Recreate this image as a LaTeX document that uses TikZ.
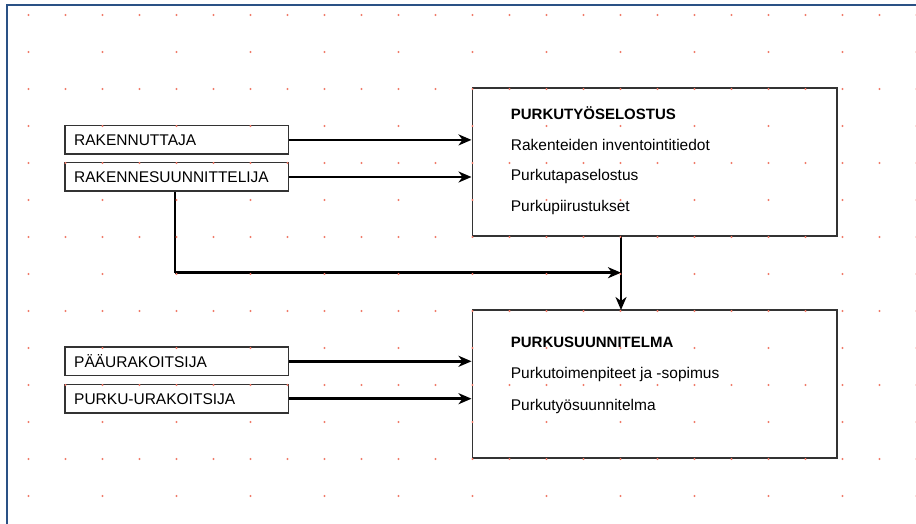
\documentclass[tikz,border=0pt]{standalone}
\usepackage{fontspec}
\setmainfont{Liberation Sans}
\usetikzlibrary{arrows.meta}
\definecolor{frameblue}{HTML}{2A5185}
\definecolor{dotred}{HTML}{F07A68}
\definecolor{boxgray}{HTML}{333333}
\tikzset{
  rolebox/.style={draw=boxgray, line width=1.6pt, minimum width=223.3pt, minimum height=28.6pt,
    inner sep=0pt, text width=205pt, align=left, font=\fontsize{15.5}{17}\selectfont},
  docbox/.style={draw=boxgray, line width=1.6pt, minimum width=364.4pt, minimum height=148pt, inner sep=0pt},
  doctitle/.style={anchor=west, inner sep=0pt, font=\fontsize{15}{17}\selectfont\bfseries},
  docline/.style={anchor=west, inner sep=0pt, font=\fontsize{15.5}{17}\selectfont},
  flow/.style={line width=2.6pt, -{Stealth[length=13pt,width=11pt,inset=4pt]}},
  plain/.style={line width=2.6pt}
}
\begin{document}
\begin{tikzpicture}[x=1pt,y=-1pt]
\useasboundingbox (0,0) rectangle (916,524);
\fill[white] (0,0) rectangle (916,524);
% frame
\draw[frameblue, line width=2.4pt] (7,524) -- (7,5) -- (916,5);
% boxes
\node[rolebox] (r1) at (176.7,139.9) {RAKENNUTTAJA};
\node[rolebox] (r2) at (176.7,177) {RAKENNESUUNNITTELIJA};
\node[rolebox] (r3) at (176.7,361.3) {PÄÄURAKOITSIJA};
\node[rolebox] (r4) at (176.7,398.7) {PURKU-URAKOITSIJA};
\node[docbox] (b1) at (654.5,161.9) {};
\node[docbox] (b2) at (654.5,383.9) {};
% texts
\node[doctitle] (t1) at (510.7,113) {PURKUTYÖSELOSTUS};
\node[docline] (t2) at (510.7,145) {Rakenteiden inventointitiedot};
\node[docline] (t3) at (510.7,176.5) {Purkutapaselostus};
\node[docline] (t4) at (510.7,207.5) {Purkupiirustukset};
\node[doctitle] (s1) at (510.7,342.7) {PURKUSUUNNITELMA};
\node[docline] (s2) at (510.7,374.5) {Purkutoimenpiteet ja -sopimus};
\node[docline] (s3) at (510.7,406.5) {Purkutyösuunnitelma};
% connectors
\coordinate (ctop) at (621,236);
\coordinate (cbot) at (621,310);
\coordinate (cjoin) at (621,272.7);
\coordinate (rdown) at (175,191.7);
\coordinate (rcorner) at (175,272.7);
\draw[flow] (r1.east) -- (r1.east -| b1.west);
\draw[flow] (r2.east) -- (r2.east -| b1.west);
\draw[flow] (r3.east) -- (r3.east -| b2.west);
\draw[flow] (r4.east) -- (r4.east -| b2.west);
\draw[flow] (ctop) -- (cbot);
\draw[plain] (rdown) -- (rcorner);
\draw[flow] (rcorner) -- (cjoin);
% dot grid
\foreach \k in {0,...,13}{
  \pgfmathtruncatemacro{\odd}{mod(\k,2)}
  \foreach \j in {0,...,24}{
    \pgfmathtruncatemacro{\jodd}{mod(\j,2)}
    \ifnum\odd=1
      \ifnum\jodd=0 \fill[dotred] (28.5+37*\j,15+37*\k) circle (1.2pt); \fi
    \else
      \fill[dotred] (28.5+37*\j,15+37*\k) circle (1.2pt);
    \fi
  }
}
\end{tikzpicture}
\end{document}
